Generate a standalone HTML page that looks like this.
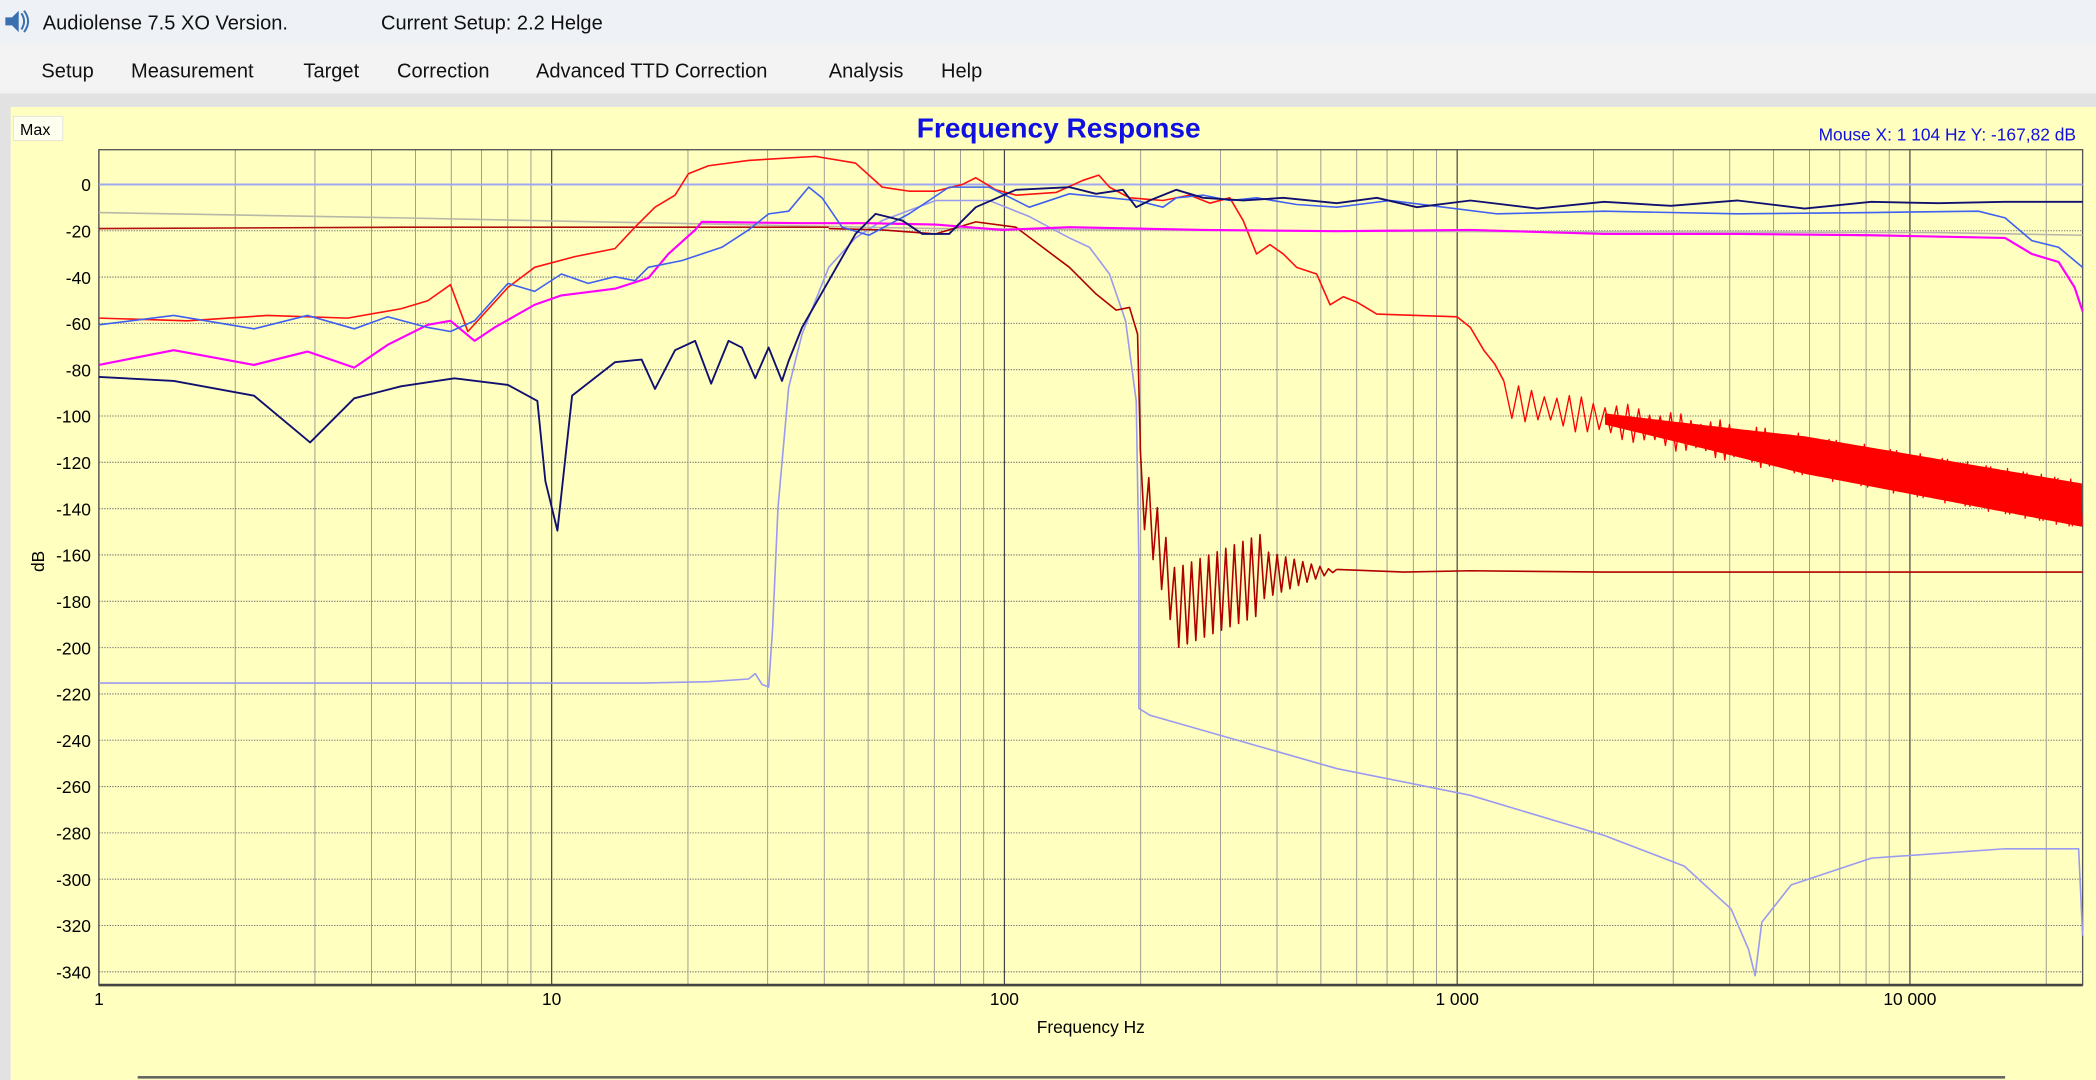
<!DOCTYPE html>
<html><head><meta charset="utf-8"><style>
html,body{margin:0;padding:0;width:2096px;height:1080px;overflow:hidden;background:#e6e6e6;font-family:"Liberation Sans",sans-serif}
svg{position:absolute;left:0;top:0}
</style></head><body>
<svg id="s" width="2096" height="1080" viewBox="0 0 1568 808" preserveAspectRatio="none" xmlns="http://www.w3.org/2000/svg">
<rect x="0" y="0" width="1568" height="32" fill="#eef2f7"/>
<rect x="0" y="32" width="1568" height="38" fill="#f3f3f3"/>
<rect x="0" y="70" width="1568" height="738" fill="#e2e2e2"/>
<rect x="8" y="80" width="1560" height="728" fill="#ffffc0"/>
<g fill="#3a6fb0"><path d="M4 13 L9 13 L14 8 L14 24 L9 19 L4 19 Z"/></g>
<path d="M16 10 Q20 16 16 22 M18 8 Q24 16 18 24" stroke="#3a6fb0" fill="none" stroke-width="1.5"/>
<text x="32" y="22" font-size="15" fill="#111">Audiolense 7.5 XO Version.</text>
<text x="285" y="22" font-size="15" fill="#111">Current Setup: 2.2 Helge</text>
<g font-size="15" fill="#111">
<text x="31" y="58">Setup</text><text x="98" y="58">Measurement</text><text x="227" y="58">Target</text>
<text x="297" y="58">Correction</text><text x="401" y="58">Advanced TTD Correction</text><text x="620" y="58">Analysis</text><text x="704" y="58">Help</text>
</g>
<rect x="10" y="87" width="37" height="18" fill="#fffff0" stroke="#ddd" stroke-width="0.6"/>
<text x="15" y="101" font-size="12" fill="#000">Max</text>
<text x="792" y="103" font-size="21" font-weight="bold" fill="#1010e0" text-anchor="middle">Frequency Response</text>
<text x="1553" y="105" font-size="13" fill="#1010e0" text-anchor="end">Mouse X: 1 104 Hz   Y: -167,82 dB</text>
<g id="grid"></g>
<rect x="74" y="112" width="1484" height="625" fill="none" stroke="#555" stroke-width="1"/>
<line x1="74" y1="737" x2="1558" y2="737" stroke="#444" stroke-width="2"/>
<g id="lab" font-size="13" fill="#000"></g>
<text x="816" y="773" font-size="13" text-anchor="middle">Frequency Hz</text>
<text transform="translate(33,420) rotate(-90)" font-size="13" text-anchor="middle">dB</text>
<line x1="103" y1="806" x2="1500" y2="806" stroke="#666" stroke-width="2"/>
<g fill="none" stroke-width="1.2" stroke-linejoin="round">
<line x1="74" y1="138" x2="1558" y2="138" stroke="#a0a8f0" stroke-width="1.5"/>
<polyline stroke="#b8b8a8" points="74,159 300,163 500,167 700,171 1000,173 1450,174 1558,176"/>
<polyline stroke="#b01010" points="74,171 300,170 500,170 620,170"/>
<polyline stroke="#9a9af0" points="74,511 300,511 480,511 530,510 560,508 565,504 570,512 575,514 578,470 582,380 590,290 600,250 620,200 640,178 660,165 700,150 740,150 770,162 800,178 815,185 830,205 842,240 850,300 852,420 852,530 860,535 1000,575 1100,595 1200,625 1260,648 1295,680 1308,710 1313,730 1318,690 1340,662 1400,642 1500,635 1555,635 1558,700"/>
<polyline id="dr" stroke="#b00000" points="620,171 660,172 700,175 730,166 760,170 780,185 800,200 820,220 835,232 845,230 851,250 853,330"/>
<polyline stroke="#b00000" points="1000,426 1050,428 1100,427 1200,428 1558,428"/>
<polyline stroke="#ff1010" points="74,238 140,240 200,236 260,238 300,231 320,225 337,213 350,248 380,215 400,200 430,192 460,186 475,170 490,155 505,146 515,130 530,124 560,120 610,117 640,122 660,140 680,143 700,143 720,138 730,133 745,142 760,146 790,144 810,135 822,131 830,140 845,148 870,150 890,146 905,152 920,148 930,165 940,190 950,183 960,190 970,200 985,205 995,228 1005,222 1015,226 1030,235 1060,236 1090,237 1100,245 1110,262 1118,272 1125,285"/>
<polyline id="rb" stroke="#ff0000" stroke-width="1" points=""/>
<polyline stroke="#ff00ff" stroke-width="1.6" points="74,273 130,262 190,273 230,263 265,275 290,258 320,243 337,240 355,255 370,245 400,228 420,221 460,216 485,208 500,190 520,172 525,166 600,167 650,167 700,168 750,172 800,170 900,172 1000,173 1100,172 1200,175 1300,175 1400,176 1500,178 1520,190 1540,196 1552,215 1558,233"/>
<polyline stroke="#4060f0" points="74,243 130,236 190,246 230,236 265,246 290,237 320,245 337,248 355,240 380,212 400,218 420,205 440,212 460,207 475,210 485,200 510,195 540,185 560,172 575,160 590,158 605,140 615,148 630,170 650,176 680,160 710,140 740,140 770,155 800,145 830,148 850,150 870,155 880,148 900,146 920,150 940,148 970,153 1000,155 1040,150 1080,155 1120,160 1200,158 1300,160 1400,159 1480,158 1500,163 1520,180 1540,185 1558,200"/>
<polyline stroke="#101070" stroke-width="1.4" points="74,282 130,285 190,296 232,331 265,298 300,289 340,283 380,288 402,300 408,360 417,397 428,296 460,271 480,269 490,291 505,262 520,255 532,287 545,255 555,260 565,283 575,260 585,285 590,270 600,245 620,210 640,175 655,160 675,165 690,175 710,175 730,155 760,142 800,140 820,145 840,142 850,155 860,150 880,142 900,148 930,150 960,148 1000,152 1030,148 1060,155 1100,150 1150,156 1200,151 1250,154 1300,150 1350,156 1400,151 1450,152 1500,151 1558,151"/>
</g>
<polygon id="band" fill="#ff0000" points=""/>
</svg>
<script>
(function(){
var NS="http://www.w3.org/2000/svg",g=document.getElementById('grid'),lab=document.getElementById('lab');
function X(f){return 74+338.7*Math.log10(f);}
function el(p,t,a){var e=document.createElementNS(NS,t);for(var k in a)e.setAttribute(k,a[k]);p.appendChild(e);return e;}
for(var k=0;k<=17;k++){var y=138+k*34.65;el(g,'line',{x1:74,x2:1558,y1:y,y2:y,stroke:'#777','stroke-width':0.8,'stroke-dasharray':'1,1'});
var t=el(lab,'text',{x:68,y:y+5,'text-anchor':'end'});t.textContent=k==0?'0':'-'+(k*20);}
for(var d=1;d<=10000;d*=10)for(var m=1;m<10;m++){var f=d*m;var x=X(f);if(x>1558)break;
el(g,'line',{x1:x,x2:x,y1:112,y2:737,stroke:m==1?'#444':'#888','stroke-width':m==1?0.9:0.6});}
[[1,'1'],[10,'10'],[100,'100'],[1000,'1 000'],[10000,'10 000']].forEach(function(a){var t=el(lab,'text',{x:X(a[0]),y:752,'text-anchor':'middle'});t.textContent=a[1];});
var tops=[],bots=[],zz=[];var x=1126,i=0;
while(x<1558){var r=(x-1126)/432;var c=300+r*78,a=13+r*5;zz.push(x.toFixed(1)+','+(c+(i%2?a:-a)*(0.8+0.2*Math.sin(i*0.7))).toFixed(1));
if(x>1200){var s=Math.min(1,(x-1200)/150);tops.push(x.toFixed(1)+','+(c-a*(0.3+0.6*s)).toFixed(1));bots.unshift(x.toFixed(1)+','+(c+a*(0.3+0.6*s)).toFixed(1));}
x+=Math.max(1.2,5-r*4);i++;}
document.getElementById('rb').setAttribute('points','1125,285 '+zz.join(' '));
document.getElementById('band').setAttribute('points',tops.concat(bots).join(' '));
var pts=[];x=853;i=0;
while(x<1000){var c2,a2;if(x<880){c2=360+(x-853)*3.5;a2=25;}else if(x<945){c2=455-(x-880)*0.4;a2=30;}else{c2=430-(x-945)*0.05;a2=Math.max(1,18*(1000-x)/55);}
pts.push(x.toFixed(1)+','+(c2+(i%2?a2:-a2)).toFixed(1));x+=3.2;i++;}
var dr=document.getElementById('dr');dr.setAttribute('points',dr.getAttribute('points')+' '+pts.join(' ')+' 1000,426');
})();
</script>
</body></html>
